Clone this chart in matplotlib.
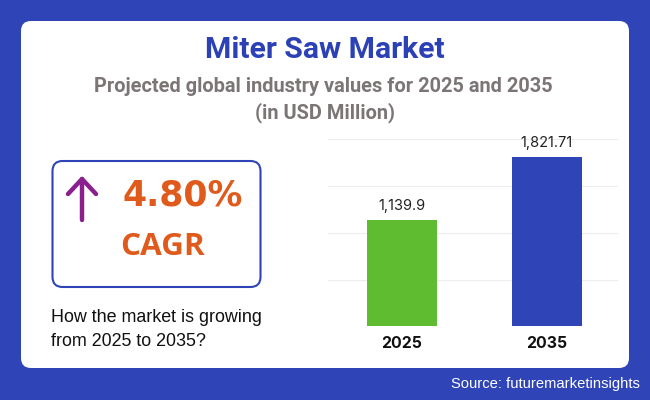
import matplotlib
matplotlib.use('Agg')
import matplotlib.pyplot as plt
from matplotlib.patches import FancyBboxPatch

years = ['2025', '2035']
values = [1139.9, 1821.71]
value_labels = ['1,139.9', '1,821.71']
bar_colors = ['#5FBB2F', '#2F45B7']
grid_ticks = [0, 503, 1006, 1509, 2012]

BLUE = '#2F45B7'
W, H = 650, 400

fig = plt.figure(figsize=(W / 100, H / 100), dpi=100, facecolor=BLUE)

## overlay in pixel coords for the card, the box and the texts
bg = fig.add_axes([0, 0, 1, 1])
bg.set_xlim(0, W)
bg.set_ylim(H, 0)
bg.axis('off')

bg.add_patch(FancyBboxPatch((31, 31), 588, 327, boxstyle='round,pad=10,rounding_size=10',
                            fc='white', ec='white', lw=0, zorder=1))
bg.add_patch(FancyBboxPatch((52.5, 161), 208, 126, boxstyle='round,pad=0,rounding_size=10',
                            fc='white', ec=BLUE, lw=1.5, zorder=2))

bg.text(325, 50, 'Miter Saw Market', ha='center', va='center', color='#2B41B5',
        family='Roboto', weight='bold', fontsize=21.7)
bg.text(323, 87, 'Projected global industry values for 2025 and 2035', ha='center', va='center',
        color='#7B7675', family='Roboto', weight='bold', fontsize=14.4)
bg.text(325, 113, '(in USD Million)', ha='center', va='center',
        color='#7B7675', family='Roboto', weight='bold', fontsize=14.4)

## up arrow
arrow_color = '#8A1F8E'
bg.plot([82, 82], [220, 179], color=arrow_color, lw=3.2, solid_capstyle='round', zorder=3)
bg.plot([68, 82, 96], [194, 179, 194], color=arrow_color, lw=3.2,
        solid_capstyle='round', solid_joinstyle='round', zorder=3)

bg.text(183, 196, '4.80%', ha='center', va='center', color='#E05A1B',
        family='DejaVu Sans', weight='bold', fontsize=25, zorder=3)
bg.text(162.5, 247, 'CAGR', ha='center', va='center', color='#E05A1B',
        family='Open Sans', weight='bold', fontsize=22.6, zorder=3)

bg.text(51, 317, 'How the market is growing', ha='left', va='center', color='#111111',
        family='Liberation Sans', fontsize=12.9)
bg.text(51, 342, 'from 2025 to 2035?', ha='left', va='center', color='#111111',
        family='Liberation Sans', fontsize=12.9)

bg.text(640, 384, 'Source: futuremarketinsights', ha='right', va='center', color='white',
        family='Liberation Sans', fontsize=10.6)

## bar chart
ax = fig.add_axes([328 / W, 1 - 326.3 / H, 290 / W, 187 / H])
ax.patch.set_alpha(0)
ax.bar(range(len(years)), values, width=0.483, color=bar_colors, edgecolor=bar_colors,
       linewidth=0, zorder=3)
ax.set_xlim(-0.51, 1.49)
ax.set_ylim(0, grid_ticks[-1])
ax.set_yticks(grid_ticks)
ax.set_yticklabels([])
ax.set_xticks(range(len(years)))
ax.set_xticklabels(years, family='Inter', weight='bold', fontsize=11.4, color='#111111')
ax.tick_params(length=0, pad=7)
ax.grid(axis='y', color='#EDEDED', lw=0.8, zorder=0)
ax.set_axisbelow(True)
for s in ax.spines.values():
    s.set_visible(False)

for i, v in enumerate(values):
    ax.annotate(value_labels[i], (i, v), xytext=(0, 5), textcoords='offset points', ha='center',
                va='bottom', family='Inter', fontsize=10.5, color='#222222')

fig.savefig('out.png', dpi=100, facecolor=fig.get_facecolor())
